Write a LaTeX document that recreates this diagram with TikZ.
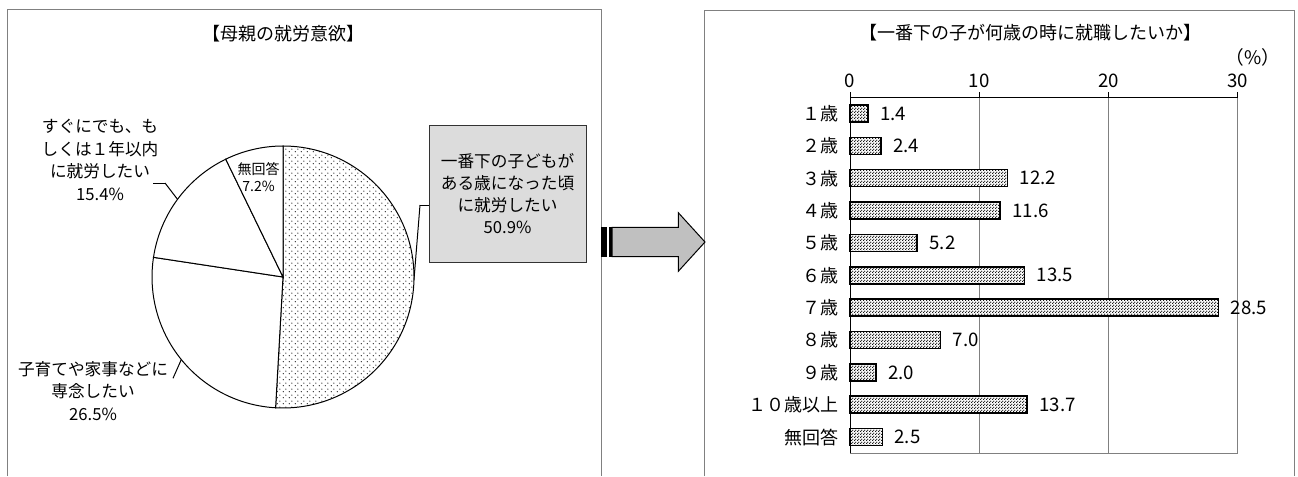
\documentclass[tikz,border=0pt]{standalone}
\usepackage[svgnames]{xcolor}
\usepackage{fontspec}
\setmainfont{Noto Sans CJK JP}
\usepackage{tikz}
\usetikzlibrary{patterns}
\pgfdeclarelayer{edgelayer}
\pgfdeclarelayer{nodelayer}
\pgfsetlayers{edgelayer,nodelayer,main}
\pgfdeclarepatternformonly{piedots}{\pgfpointorigin}{\pgfpoint{4.5pt}{4.5pt}}{\pgfpoint{4.5pt}{4.5pt}}{%
	\pgfpathcircle{\pgfpoint{1.125pt}{1.125pt}}{0.6pt}%
	\pgfpathcircle{\pgfpoint{3.375pt}{3.375pt}}{0.6pt}%
	\pgfusepath{fill}}
\pgfdeclarepatternformonly{bardots}{\pgfpointorigin}{\pgfpoint{2pt}{2pt}}{\pgfpoint{2pt}{2pt}}{%
	\pgfpathcircle{\pgfpoint{0.5pt}{0.5pt}}{0.55pt}%
	\pgfpathcircle{\pgfpoint{1.5pt}{1.5pt}}{0.55pt}%
	\pgfusepath{fill}}
\tikzstyle{none}=[inner sep=0pt]
\tikzstyle{title}=[inner sep=0pt,font=\fontsize{13.5}{16}\selectfont]
\tikzstyle{lbl}=[inner sep=0pt,align=center,font=\fontsize{12.5}{17}\selectfont]
\tikzstyle{small}=[inner sep=0pt,align=center,font=\fontsize{10.5}{13.1}\selectfont]
\tikzstyle{callout}=[rectangle,fill=Gainsboro,draw=Black!80,line width=0.75pt,align=center,minimum width=117.75pt,minimum height=102.75pt,inner sep=0pt,font=\fontsize{12.5}{16.3}\selectfont]
\tikzstyle{cat}=[inner sep=0pt,anchor=east,font=\fontsize{13.5}{16}\selectfont]
\tikzstyle{val}=[inner sep=0pt,anchor=west,font=\fontsize{14}{16}\selectfont]
\tikzstyle{tick}=[inner sep=0pt,font=\fontsize{14}{16}\selectfont]
\tikzstyle{frame}=[-,draw=Gray,line width=0.75pt]
\tikzstyle{simple}=[-,draw=Black,line width=0.75pt]
\tikzstyle{grid}=[-,draw=Gray,line width=0.75pt]
\tikzstyle{slice}=[draw=Black,line width=0.75pt,fill=White]
\tikzstyle{dotslice}=[draw=Black,line width=0.75pt,preaction={fill=White},pattern=piedots,pattern color=Black!80]
\tikzstyle{bar}=[draw=Black,line width=1.1pt,preaction={fill=White},pattern=bardots,pattern color=Black]
\tikzstyle{block}=[draw=Black,line width=0.75pt,fill=Silver]

\begin{document}
\begin{tikzpicture}[x=0.75pt,y=0.75pt]
	\begin{pgfonlayer}{nodelayer}
		\node [style=title] (0) at (283, 442) {【母親の就労意欲】};
		\node [style=title] (1) at (1030, 443) {【一番下の子が何歳の時に就職したいか】};
		\node [style=small] (2) at (258.5, 299) {無回答\\7.2\%};
		\node [style=lbl] (3) at (100, 316) {すぐにでも、も\\しくは１年以内\\に就労したい\\15.4\%};
		\node [style=lbl] (4) at (93, 85) {子育てや家事などに\\専念したい\\26.5\%};
		\node [style=callout] (5) at (507.5, 282.5) {一番下の子どもが\\ある歳になった頃\\に就労したい\\50.9\%};
		\node [style=none] (6) at (153, 293) {};
		\node [style=none] (7) at (165, 293) {};
		\node [style=none] (8) at (177.5, 276.7) {};
		\node [style=none] (9) at (173, 97.7) {};
		\node [style=none] (10) at (181.3, 116.4) {};
		\node [style=none] (11) at (429, 271) {};
		\node [style=none] (12) at (420, 271) {};
		\node [style=none] (13) at (413.9, 195.3) {};
		\node [style=none] (14) at (283, 199) {};
		\node [style=tick] (15) at (850, 395) {0};
		\node [style=tick] (16) at (979.3, 395) {10};
		\node [style=tick] (17) at (1108.6, 395) {20};
		\node [style=tick] (18) at (1237.9, 395) {30};
		\node [style=tick] (19) at (1253, 419) {（\%）};
		\node [style=cat] (20) at (839, 362.5) {１歳};
		\node [style=cat] (21) at (839, 330.1) {２歳};
		\node [style=cat] (22) at (839, 297.8) {３歳};
		\node [style=cat] (23) at (839, 265.4) {４歳};
		\node [style=cat] (24) at (839, 233.1) {５歳};
		\node [style=cat] (25) at (839, 200.7) {６歳};
		\node [style=cat] (26) at (839, 168.3) {７歳};
		\node [style=cat] (27) at (839, 136.0) {８歳};
		\node [style=cat] (28) at (839, 103.6) {９歳};
		\node [style=cat] (29) at (839, 71.3) {１０歳以上};
		\node [style=cat] (30) at (839, 38.9) {無回答};
		\node [style=val] (31) at (880.1, 362.5) {1.4};
		\node [style=val] (32) at (893.0, 330.1) {2.4};
		\node [style=val] (33) at (1019.7, 297.8) {12.2};
		\node [style=val] (34) at (1012.0, 265.4) {11.6};
		\node [style=val] (35) at (929.2, 233.1) {5.2};
		\node [style=val] (36) at (1036.6, 200.7) {13.5};
		\node [style=val] (37) at (1230.5, 168.3) {28.5};
		\node [style=val] (38) at (952.5, 136.0) {7.0};
		\node [style=val] (39) at (887.9, 103.6) {2.0};
		\node [style=val] (40) at (1039.1, 71.3) {13.7};
		\node [style=val] (41) at (894.3, 38.9) {2.5};
	\end{pgfonlayer}
	\begin{pgfonlayer}{edgelayer}
		\path [use as bounding box,fill=White] (0,0) rectangle (1298,476);
		\draw [style=frame] (7,0) -- (7,466) -- (601,466) -- (601,0);
		\draw [style=frame] (704.5,0) -- (704.5,465.3) -- (1294,465.3) -- (1294,0);
		\draw [style=simple] (6.center) to (7.center);
		\draw [style=simple] (7.center) to (8.center);
		\draw [style=simple] (9.center) to (10.center);
		\draw [style=simple] (11.center) to (12.center);
		\draw [style=simple] (12.center) to (13.center);
		% pie
		\draw [style=dotslice] (14.center) -- ++(90:131) arc [start angle=90, end angle=-93.24, radius=131] -- cycle;
		\draw [style=slice] (14.center) -- ++(-93.24:131) arc [start angle=-93.24, end angle=-188.64, radius=131] -- cycle;
		\draw [style=slice] (14.center) -- ++(-188.64:131) arc [start angle=-188.64, end angle=-244.08, radius=131] -- cycle;
		\draw [style=slice] (14.center) -- ++(-244.08:131) arc [start angle=-244.08, end angle=-270, radius=131] -- cycle;
		% grid
		\draw [style=grid] (979.3,378.7) -- (979.3,22.7);
		\draw [style=grid] (1108.6,378.7) -- (1108.6,22.7);
		\draw [style=grid] (1237.9,378.7) -- (1237.9,22.7) -- (850,22.7);
		% bars
		\draw [style=bar] (850,354.0) rectangle (868.1,371.0);
		\draw [style=bar] (850,321.6) rectangle (881.0,338.6);
		\draw [style=bar] (850,289.3) rectangle (1007.7,306.3);
		\draw [style=bar] (850,256.9) rectangle (1000.0,273.9);
		\draw [style=bar] (850,224.6) rectangle (917.2,241.6);
		\draw [style=bar] (850,192.2) rectangle (1024.6,209.2);
		\draw [style=bar] (850,159.8) rectangle (1218.5,176.8);
		\draw [style=bar] (850,127.5) rectangle (940.5,144.5);
		\draw [style=bar] (850,95.1) rectangle (875.9,112.1);
		\draw [style=bar] (850,62.8) rectangle (1027.1,79.8);
		\draw [style=bar] (850,30.4) rectangle (882.3,47.4);
	\end{pgfonlayer}
	% block arrow
	\draw [style=block] (612,248.7) -- (678.3,248.7) -- (678.3,263.3) -- (705,234) -- (678.3,204.7) -- (678.3,219.3) -- (612,219.3) -- cycle;
	\fill [Black] (601,219.3) rectangle (606.7,248.7);
	\fill [Black] (609,219.3) rectangle (611.7,248.7);
	% axes
	\draw [style=simple] (850,22.7) -- (850,378.7) -- (1237.9,378.7);
	\draw [style=simple] (850,378.7) -- (850,383.7);
	\draw [style=simple] (979.3,378.7) -- (979.3,383.7);
	\draw [style=simple] (1108.6,378.7) -- (1108.6,383.7);
	\draw [style=simple] (1237.9,378.7) -- (1237.9,383.7);
\end{tikzpicture}
\end{document}
